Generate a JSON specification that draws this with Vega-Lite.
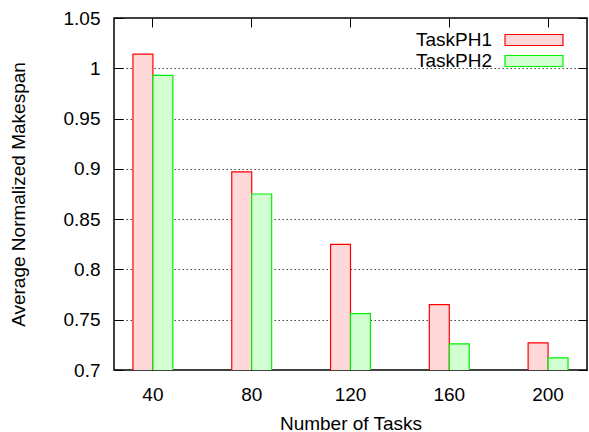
{
  "$schema": "https://vega.github.io/schema/vega-lite/v6.json",
  "width": 473,
  "height": 352,
  "autosize": "none",
  "padding": {"left": 114, "top": 18, "right": 2, "bottom": 62},
  "config": {
    "view": {"stroke": "black", "strokeWidth": 1.5},
    "font": "Liberation Sans",
    "axis": {
      "domain": false,
      "tickColor": "black",
      "tickWidth": 1,
      "tickSize": -9,
      "labelFont": "Liberation Sans",
      "labelFontSize": 19,
      "labelColor": "black",
      "titleFont": "Liberation Sans",
      "titleFontSize": 19,
      "titleFontWeight": "normal",
      "titleColor": "black"
    }
  },
  "data": {
    "values": [
      {"tasks": 40, "series": "TaskPH1", "value": 1.014},
      {"tasks": 40, "series": "TaskPH2", "value": 0.993},
      {"tasks": 80, "series": "TaskPH1", "value": 0.897},
      {"tasks": 80, "series": "TaskPH2", "value": 0.875},
      {"tasks": 120, "series": "TaskPH1", "value": 0.825},
      {"tasks": 120, "series": "TaskPH2", "value": 0.756},
      {"tasks": 160, "series": "TaskPH1", "value": 0.765},
      {"tasks": 160, "series": "TaskPH2", "value": 0.726},
      {"tasks": 200, "series": "TaskPH1", "value": 0.727},
      {"tasks": 200, "series": "TaskPH2", "value": 0.712}
    ]
  },
  "layer": [
    {
      "mark": {"type": "bar", "strokeWidth": 1.2, "clip": true},
      "encoding": {
        "x": {
          "field": "tasks", "type": "ordinal", "sort": "ascending",
          "scale": {"paddingInner": 0.596, "paddingOuter": 0.192},
          "axis": {"orient": "bottom", "labelAngle": 0, "labelPadding": 24, "title": "Number of Tasks", "titlePadding": 10, "grid": false}
        },
        "xOffset": {"field": "series", "type": "nominal", "scale": {"paddingInner": 0, "paddingOuter": 0}},
        "y": {
          "field": "value", "type": "quantitative",
          "scale": {"domain": [0.7, 1.05], "zero": false, "nice": false},
          "axis": {
            "orient": "left", "values": [0.7, 0.75, 0.8, 0.85, 0.9, 0.95, 1, 1.05],
            "format": "~g", "labelPadding": 23, "title": "Average Normalized Makespan", "titlePadding": 35,
            "grid": true, "gridColor": "#444", "gridDash": [1.5, 2.5], "gridWidth": 1
          }
        },
        "fill": {
          "field": "series", "type": "nominal",
          "scale": {"range": ["#ffd9d9", "#d2ffd2"]},
          "legend": {
            "title": null, "orient": "none", "legendX": 409, "legendY": 11,
            "symbolType": "M-2.9,-0.55H2.9V0.55H-2.9Z", "symbolSize": 400, "symbolStrokeWidth": 1.2,
            "labelAlign": "right", "labelOffset": -53, "labelFontSize": 19, "labelColor": "black",
            "labelFont": "Liberation Sans", "rowPadding": 0
          }
        },
        "stroke": {
          "field": "series", "type": "nominal",
          "scale": {"range": ["#ff0000", "#00f000"]}
        }
      }
    },
    {
      "mark": {"type": "bar", "opacity": 0, "clip": true},
      "encoding": {
        "x": {
          "field": "tasks", "type": "ordinal", "sort": "ascending",
          "axis": {"orient": "top", "labels": false, "title": null, "grid": false}
        },
        "xOffset": {"field": "series", "type": "nominal"},
        "y": {
          "field": "value", "type": "quantitative",
          "axis": {"orient": "right", "labels": false, "title": null, "grid": false, "values": [0.7, 0.75, 0.8, 0.85, 0.9, 0.95, 1, 1.05]}
        }
      }
    }
  ],
  "resolve": {"axis": {"x": "independent", "y": "independent"}}
}
